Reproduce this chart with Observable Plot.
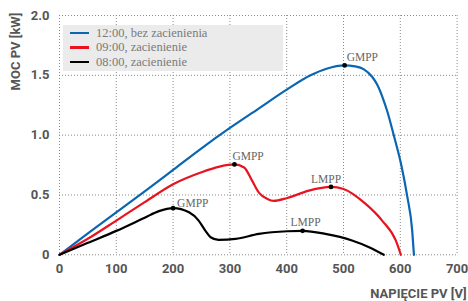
<!DOCTYPE html>
<html>
<head>
<meta charset="utf-8">
<script src="https://cdn.jsdelivr.net/npm/d3@7"></script>
<script src="https://cdn.jsdelivr.net/npm/@observablehq/plot@0.6"></script>
<style>
  body { margin: 0; background: #fff; }
  #wrap { position: relative; width: 468px; height: 301px; }
  #legend { position: absolute; left: 63px; top: 25px; width: 220px; height: 46px; background: #ebebeb;
    font-family: "Liberation Serif", serif; font-size: 12.5px; color: #7a7a7a; }
  .row { position: absolute; left: 7px; height: 14px; display: flex; align-items: center; }
  .sw { width: 19px; height: 2.2px; margin-right: 7px; }
</style>
</head>
<body>
<div id="wrap"><div id="legend"></div></div>
<script>
// ---- data ----
const seriesNames = ["12:00, bez zacienienia", "09:00, zacienienie", "08:00, zacienienie"];
const seriesColors = ["#0a66b2", "#e8131f", "#000000"];

const vBlue = [0, 50, 100, 150, 200, 250, 300, 350, 400, 442, 470, 502, 520, 536, 550, 559, 570, 577, 589, 602, 612, 621, 624];
const pBlue = [0, 0.18, 0.355, 0.53, 0.71, 0.89, 1.06, 1.22, 1.38, 1.50, 1.555, 1.583, 1.575, 1.55, 1.49, 1.425, 1.30, 1.20, 0.99, 0.744, 0.494, 0.20, 0];

const vRed = [0, 52, 100, 150, 200, 250, 280, 308, 325, 339, 351, 366, 377, 401, 439, 478, 500, 539, 568, 592, 601];
const pRed = [0, 0.14, 0.286, 0.44, 0.59, 0.69, 0.735, 0.755, 0.73, 0.62, 0.52, 0.467, 0.45, 0.475, 0.536, 0.567, 0.55, 0.425, 0.286, 0.12, 0];

const vBlack = [0, 50, 100, 150, 175, 200, 228, 245, 257, 266, 280, 310, 351, 401, 428, 468, 515, 545, 571];
const pBlack = [0, 0.10, 0.20, 0.31, 0.365, 0.39, 0.355, 0.286, 0.20, 0.147, 0.125, 0.133, 0.175, 0.197, 0.20, 0.175, 0.12, 0.064, 0];

const mppLabels = ["GMPP", "GMPP", "LMPP", "GMPP", "LMPP"];
const mppV = [502, 308, 478, 200, 428];
const mppP = [1.583, 0.755, 0.567, 0.39, 0.20];

const xTicks = [0, 100, 200, 300, 400, 500, 600, 700];
const yTicks = [0, 0.5, 1.0, 1.5, 2.0];
const xLabel = "NAPIĘCIE PV [V]";
const yLabel = "MOC PV [kW]";

// ---- build ----
const toRows = (vs, ps, s) => vs.map((v, i) => ({V: v, P: ps[i], s}));
const curves = [
  toRows(vBlue, pBlue, seriesNames[0]),
  toRows(vRed, pRed, seriesNames[1]),
  toRows(vBlack, pBlack, seriesNames[2])
];
const mpp = mppLabels.map((l, i) => ({label: l, V: mppV[i], P: mppP[i]}));
const labelOffsets = [[2, -4, "start"], [-2, -4, "start"], [-5, -4, "middle"], [4, -1, "start"], [3, -5, "middle"]];

const gridStyle = {stroke: "#8a8a8a", strokeDasharray: "1,2", strokeWidth: 1};
const serif = "Liberation Serif";

const chart = Plot.plot({
  width: 468,
  height: 301,
  marginLeft: 59,
  marginRight: 11.4,
  marginTop: 15,
  marginBottom: 46.7,
  style: {fontFamily: "Roboto", fontWeight: "bold", fontSize: "13px", color: "#555", background: "#fff"},
  x: {domain: [0, 700], ticks: xTicks, tickSize: 0, tickPadding: 9, label: null},
  y: {domain: [0, 2], ticks: yTicks, tickSize: 0, tickPadding: 10, label: null,
      tickFormat: d => d === 0 ? "0" : d.toFixed(1)},
  marks: [
    Plot.ruleX(xTicks, gridStyle),
    Plot.ruleY(yTicks, gridStyle),
    ...curves.map((c, i) => Plot.line(c, {x: "V", y: "P", stroke: seriesColors[i], strokeWidth: 2.2, curve: "monotone-x"})),
    Plot.dot(mpp, {x: "V", y: "P", r: 2.4, fill: "#000", stroke: null}),
    ...mpp.map((m, i) => Plot.text([m], {x: "V", y: "P", text: "label", dx: labelOffsets[i][0], dy: labelOffsets[i][1],
      textAnchor: labelOffsets[i][2], lineAnchor: "bottom", fontFamily: serif, fontWeight: "normal", fontSize: 11.5, fill: "#666"})),
    Plot.text([xLabel], {frameAnchor: "bottom-right", dx: 9.5, dy: 43.5, lineAnchor: "bottom", textAnchor: "end", fill: "#555", fontSize: 13, fontWeight: "bold"}),
    Plot.text([yLabel], {frameAnchor: "top-left", dx: -44, dy: 36, rotate: -90, textAnchor: "middle", lineAnchor: "middle", fill: "#555", fontSize: 13, fontWeight: "bold"})
  ]
});
document.getElementById("wrap").prepend(chart);

// legend
const legend = document.getElementById("legend");
seriesNames.forEach((name, i) => {
  const row = document.createElement("div");
  row.className = "row";
  row.style.top = (1 + i * 14.5) + "px";
  const sw = document.createElement("div");
  sw.className = "sw";
  sw.style.background = seriesColors[i];
  const t = document.createElement("span");
  t.textContent = name;
  row.appendChild(sw);
  row.appendChild(t);
  legend.appendChild(row);
});
</script>
</body>
</html>
